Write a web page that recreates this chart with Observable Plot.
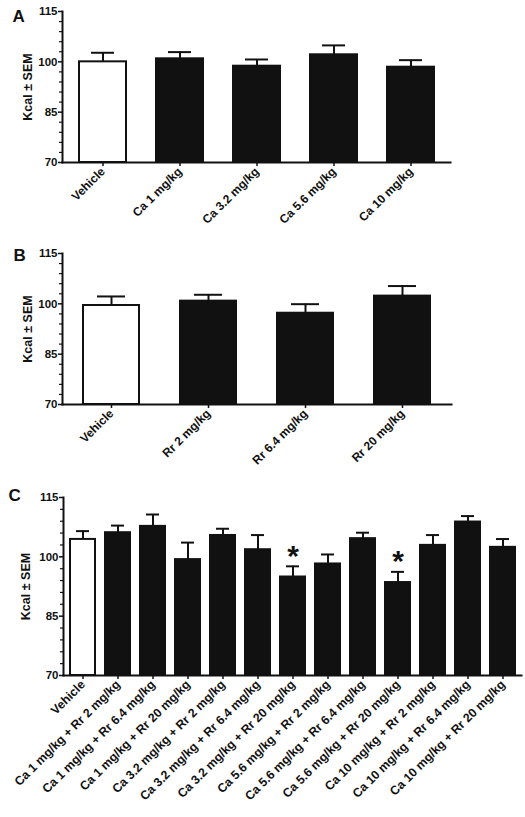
<!DOCTYPE html>
<html><head><meta charset="utf-8">
<script src="https://cdn.jsdelivr.net/npm/d3@7"></script>
<script src="https://cdn.jsdelivr.net/npm/@observablehq/plot@0.6"></script>
<style>
body{margin:0;background:#fff;}
#chart{width:525px;}
#chart svg{display:block;}
</style></head><body><div id="chart"></div>
<script>
const yDomain = [70, 115];
const yTicks = [70, 85, 100, 115];
const yMinor = [73, 76, 79, 82, 88, 91, 94, 97, 103, 106, 109, 112];
const yLabel = "Kcal ± SEM";

const catsA = ["Vehicle", "Ca 1 mg/kg", "Ca 3.2 mg/kg", "Ca 5.6 mg/kg", "Ca 10 mg/kg"];
const meanA = [100.0, 100.9, 98.7, 102.1, 98.4];
const semA  = [2.7, 2.0, 2.0, 2.8, 2.1];

const catsB = ["Vehicle", "Rr 2 mg/kg", "Rr 6.4 mg/kg", "Rr 20 mg/kg"];
const meanB = [99.5, 100.8, 97.2, 102.3];
const semB  = [2.7, 1.9, 2.7, 3.0];

const catsC = ["Vehicle",
  "Ca 1 mg/kg + Rr 2 mg/kg", "Ca 1 mg/kg + Rr 6.4 mg/kg", "Ca 1 mg/kg + Rr 20 mg/kg",
  "Ca 3.2 mg/kg + Rr 2 mg/kg", "Ca 3.2 mg/kg + Rr 6.4 mg/kg", "Ca 3.2 mg/kg + Rr 20 mg/kg",
  "Ca 5.6 mg/kg + Rr 2 mg/kg", "Ca 5.6 mg/kg + Rr 6.4 mg/kg", "Ca 5.6 mg/kg + Rr 20 mg/kg",
  "Ca 10 mg/kg + Rr 2 mg/kg", "Ca 10 mg/kg + Rr 6.4 mg/kg", "Ca 10 mg/kg + Rr 20 mg/kg"];
const meanC = [104.4, 106.1, 107.7, 99.3, 105.4, 101.8, 94.9, 98.2, 104.6, 93.5, 102.9, 108.8, 102.4];
const semC  = [2.1, 1.8, 3.0, 4.3, 1.7, 3.7, 2.7, 2.4, 1.5, 2.7, 2.6, 1.5, 2.1];
const sigC  = [false, false, false, false, false, false, true, false, false, true, false, false, false];

const FONT = "'Liberation Sans', Arial, sans-serif";

function panel(o) {
  const data = o.cats.map((c, i) => ({
    cat: c, mean: o.means[i], sem: o.sems[i], top: o.means[i] + o.sems[i],
    sig: o.sig ? o.sig[i] : false
  }));
  return Plot.plot({
    width: 525, height: o.height,
    marginTop: o.mt, marginBottom: o.mb, marginLeft: o.ml, marginRight: o.mr,
    style: {fontFamily: FONT, fontWeight: "bold", fontSize: o.tickFont + "px", color: "#111", background: "white", overflow: "visible"},
    x: {domain: o.cats, paddingInner: o.pi, paddingOuter: o.po, label: null},
    y: {domain: yDomain, label: null},
    marks: [
      Plot.barY(data, {x: "cat", y1: yDomain[0], y2: "mean",
        fill: d => d.cat === "Vehicle" ? "white" : "#111", stroke: "#111", strokeWidth: 2}),
      Plot.ruleX(data, {x: "cat", y1: "mean", y2: "top", stroke: "#111", strokeWidth: 2}),
      Plot.tickY(data, {x: "cat", y: "top", stroke: "#111", strokeWidth: 2, inset: o.capInset}),
      Plot.text(data.filter(d => d.sig), {x: "cat", y: "top", text: () => "*", fontSize: 30, fontWeight: "bold", dy: -10}),
      Plot.axisY({ticks: yMinor, tickSize: 3, tickFormat: () => "", label: null, strokeWidth: 1.2}),
      Plot.axisY({ticks: yTicks, tickSize: 4, tickPadding: 1, label: null, strokeWidth: 1.5, fontSize: o.tickFont}),
      Plot.axisX({tickRotate: -45, tickSize: 4, tickPadding: 3, label: null, strokeWidth: 1.5, fontSize: o.xFont}),
      Plot.frame({anchor: "left", stroke: "#111", strokeWidth: 2}),
      Plot.frame({anchor: "bottom", stroke: "#111", strokeWidth: 2}),
      Plot.text([yLabel], {frameAnchor: "left", textAnchor: "middle", lineAnchor: "middle", rotate: -90, dx: o.labelDx, fontSize: o.labelFont, fontWeight: "bold"}),
      Plot.text([o.letter], {frameAnchor: "top-left", textAnchor: "start", lineAnchor: "middle", dx: o.letterDx, dy: o.letterDy, fontSize: 17, fontWeight: "bold"})
    ]
  });
}

const root = document.getElementById("chart");
root.append(panel({letter: "A", cats: catsA, means: meanA, sems: semA,
  height: 245, mt: 11, mb: 83, ml: 62, mr: 75, pi: 0.394, po: 0.197, capInset: 12,
  tickFont: 11.5, labelFont: 12.5, xFont: 12, labelDx: -34.5, letterDx: -50, letterDy: 5}));
root.append(panel({letter: "B", cats: catsB, means: meanB, sems: semB,
  height: 245, mt: 8, mb: 86, ml: 62, mr: 74, pi: 0.424, po: 0.212, capInset: 14,
  tickFont: 11.5, labelFont: 12.5, xFont: 12, labelDx: -34.5, letterDx: -49, letterDy: 2}));
root.append(panel({letter: "C", cats: catsC, means: meanC, sems: semC, sig: sigC,
  height: 327, mt: 7, mb: 142, ml: 63, mr: 4, pi: 0.29, po: 0.145, capInset: 6,
  tickFont: 11.5, labelFont: 12.5, xFont: 12.3, labelDx: -38, letterDx: -55, letterDy: -2}));
</script>
</body></html>
